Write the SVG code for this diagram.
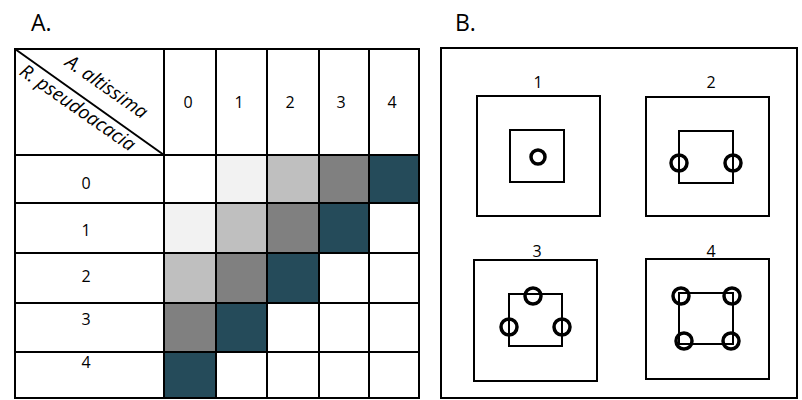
<svg xmlns="http://www.w3.org/2000/svg" width="802" height="400" viewBox="0 0 802 400">
<style>
text{font-family:"Open Sans","Liberation Sans",sans-serif;fill:#000}
.num{font-size:16px;text-anchor:middle;dominant-baseline:central}
.big{font-size:23px}
.ital{font-size:19px;font-style:italic;text-anchor:middle}
.ln{stroke:#000;stroke-width:2;fill:none}
.box{stroke:#000;stroke-width:2;fill:#fff}
.c{stroke:#000;stroke-width:3.5;fill:none}
.g1{fill:#f2f2f2}.g2{fill:#bfbfbf}.g3{fill:#808080}.g4{fill:#254b5a}
</style>
<rect width="802" height="400" fill="#fff"/>
<text class="big" x="31" y="31">A.</text>
<text class="big" x="455" y="31">B.</text>
<g id="table">
<g id="cells">
<rect class="g1" x="216" y="155" width="51" height="48"/>
<rect class="g2" x="267" y="155" width="52" height="48"/>
<rect class="g3" x="319" y="155" width="50" height="48"/>
<rect class="g4" x="369" y="155" width="50" height="48"/>
<rect class="g1" x="164" y="203" width="52" height="50"/>
<rect class="g2" x="216" y="203" width="51" height="50"/>
<rect class="g3" x="267" y="203" width="52" height="50"/>
<rect class="g4" x="319" y="203" width="50" height="50"/>
<rect class="g2" x="164" y="253" width="52" height="50"/>
<rect class="g3" x="216" y="253" width="51" height="50"/>
<rect class="g4" x="267" y="253" width="52" height="50"/>
<rect class="g3" x="164" y="303" width="52" height="49"/>
<rect class="g4" x="216" y="303" width="51" height="49"/>
<rect class="g4" x="164" y="352" width="52" height="46"/>
</g>
<rect class="ln" x="15" y="49" width="404" height="349"/>
<path class="ln" d="M164 49V398M216 49V398M267 49V398M319 49V398M369 49V398M15 155H419M15 203H419M15 253H419M15 303H419M15 352H419"/>
<path class="ln" d="M15 49L164 155"/>
<text class="ital" transform="translate(103 92) rotate(35)">A. altissima</text>
<text class="ital" transform="translate(74 113) rotate(35)">R. pseudoacacia</text>
<text class="num" x="188" y="102">0</text>
<text class="num" x="239" y="102">1</text>
<text class="num" x="290" y="102">2</text>
<text class="num" x="341" y="102">3</text>
<text class="num" x="392" y="102">4</text>
<text class="num" x="86" y="183">0</text>
<text class="num" x="86" y="230">1</text>
<text class="num" x="86" y="276">2</text>
<text class="num" x="86" y="319">3</text>
<text class="num" x="86" y="362">4</text>
</g>
<g id="panelB">
<rect class="ln" x="441" y="48" width="356" height="350"/>
</g>
<g id="plot1">
<text class="num" x="538" y="82">1</text>
<rect class="box" x="477" y="96" width="123" height="120"/>
<rect class="box" x="510" y="130" width="54" height="52"/>
<circle class="c" cx="538" cy="157" r="7"/>
</g>
<g id="plot2">
<text class="num" x="711" y="82">2</text>
<rect class="box" x="646" y="97" width="123" height="119"/>
<rect class="box" x="679" y="131" width="54" height="52"/>
<circle class="c" cx="679" cy="163" r="8"/>
<circle class="c" cx="733" cy="163" r="8"/>
</g>
<g id="plot3">
<text class="num" x="537" y="251">3</text>
<rect class="box" x="474" y="260" width="123" height="121"/>
<rect class="box" x="509" y="294" width="53" height="52"/>
<circle class="c" cx="533" cy="296" r="8"/>
<circle class="c" cx="509" cy="327" r="8"/>
<circle class="c" cx="562" cy="327" r="8"/>
</g>
<g id="plot4">
<text class="num" x="711" y="251">4</text>
<rect class="box" x="646" y="259" width="123" height="120"/>
<rect class="box" x="679" y="293" width="54" height="51"/>
<circle class="c" cx="681" cy="296" r="8"/>
<circle class="c" cx="732" cy="296" r="8"/>
<circle class="c" cx="684" cy="341" r="8"/>
<circle class="c" cx="731" cy="341" r="8"/>
</g>
</svg>
